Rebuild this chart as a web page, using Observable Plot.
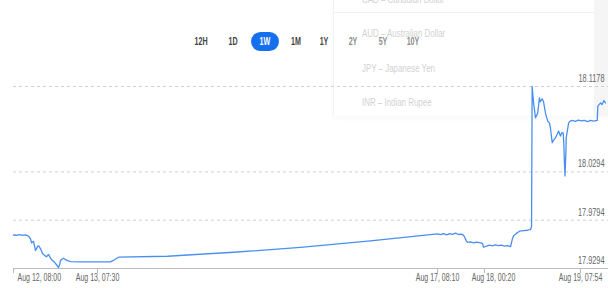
<!DOCTYPE html>
<html>
<head>
<meta charset="utf-8">
<script src="https://cdn.jsdelivr.net/npm/d3@7"></script>
<script src="https://cdn.jsdelivr.net/npm/@observablehq/plot@0.6"></script>
<style>
  html, body { margin: 0; padding: 0; background: #fff; }
  body { width: 608px; height: 288px; position: relative; overflow: hidden;
         font-family: "Liberation Sans", Arial, sans-serif; }
  #chart { position: absolute; left: 0; top: 0; z-index: 3; }
  #buttons { position: absolute; left: 0; top: 0; z-index: 1; }
  .btn { position: absolute; top: 32px; height: 19px; line-height: 19px; font-size: 10.5px; font-weight: bold;
         color: #444; transform: translateX(-50%); text-align: center; }
  .btn span { display: inline-block; transform: scaleX(0.68); }
  .btn.active { background: #1570ef; color: #fff; border-radius: 10px; width: 28px; }
  #overlay { position: absolute; left: 333px; top: 0; width: 275px; height: 116px; z-index: 2;
             background: rgba(255,255,255,0.38); box-shadow: 0 2px 6px rgba(0,0,0,0.03); }
  #overlay .sep { position: absolute; left: 0; top: 12px; width: 261px; border-top: 1px solid #f0f0f0; }
  #overlay .lft { position: absolute; left: 0; top: 0; width: 1px; height: 116px; background: #f2f2f2; }
  #overlay .scroll { position: absolute; left: 261px; top: 0; width: 14px; height: 116px; background: rgba(236,236,236,0.5); }
  #overlay .item { position: absolute; left: 29px; font-size: 11px; color: #d2d2d2; transform: translateY(-50%) scaleX(0.72);
                   transform-origin: left center; white-space: nowrap; }
</style>
</head>
<body>
<div id="buttons"></div>
<div id="overlay"></div>
<div id="chart"></div>
<script>
// Ranges (button labels)
const ranges = ["12H", "1D", "1W", "1M", "1Y", "2Y", "5Y", "10Y"];
const activeRange = "1W";
// Dropdown currency list
const currencies = ["CAD – Canadian Dollar", "AUD – Australian Dollar", "JPY – Japanese Yen", "INR – Indian Rupee"];

// Time: hours since Aug 12, 08:00
const hours = [0, 0.84, 1.68, 2.52, 3.36, 4.2, 4.76, 5.04, 5.6, 6.16, 6.72, 7.0, 7.55, 8.11, 8.67, 9.23, 9.79, 10.35, 10.91, 11.47, 11.75, 12.31, 12.59, 12.87, 13.15, 13.71, 13.99, 14.55, 15.11, 15.95, 18.75, 23.5, 27.2, 28.3, 29.47, 43.4, 62.2, 81.2, 101.1, 120.17,
  121.2, 122.2, 123.3, 124.3, 125.3, 126.4, 127.4, 128.4, 129.1, 130.1, 130.5, 131.5, 132.6, 133.6, 134.6, 135.6, 136.0, 137.0, 138.0, 139.0, 139.9, 140.9, 141.9, 142.9, 143.9, 144.9, 145.5, 145.9, 146.9, 147.9, 149.2, 150.5, 151.5, 151.8,
  152.0, 152.5, 153.1, 153.8, 154.4, 154.7, 155.3, 155.7, 156.4, 157.1, 157.7, 158.0, 158.6, 159.0, 159.7, 160.3, 160.7, 161.3, 161.8, 162.2, 162.4, 162.6, 162.8, 163.1, 163.2, 164.0, 164.5, 165.2, 166.2, 167.2, 168.2, 169.2, 170.2, 171.2, 172.2, 173.4, 173.6, 174.5, 175.0, 175.6, 176.1];
const rates = [17.9641, 17.9638, 17.9644, 17.9636, 17.9641, 17.9630, 17.9600, 17.9560, 17.9575, 17.9480, 17.9520, 17.9531, 17.9500, 17.9449, 17.9430, 17.9415, 17.9440, 17.9400, 17.9376, 17.9360, 17.9346, 17.9320, 17.9304, 17.9330, 17.9376, 17.9395, 17.9400, 17.9385, 17.9376, 17.9366, 17.9363, 17.9363, 17.9362, 17.9385, 17.9411, 17.9421, 17.9462, 17.9512, 17.9580, 17.9652,
  17.9645, 17.9656, 17.9642, 17.9655, 17.9648, 17.9660, 17.9646, 17.9650, 17.9640, 17.9580, 17.9565, 17.9570, 17.9560, 17.9568, 17.9562, 17.9555, 17.9514, 17.9525, 17.9535, 17.9528, 17.9538, 17.9530, 17.9535, 17.9525, 17.9530, 17.9520, 17.9600, 17.9634, 17.9660, 17.9680, 17.9686, 17.9690, 17.9700, 17.9727,
  18.1178, 18.1000, 18.0854, 18.0900, 18.1060, 18.1020, 18.1050, 18.1026, 18.0900, 18.0820, 18.0800, 18.0751, 18.0596, 18.0620, 18.0648, 18.0690, 18.0717, 18.0665, 18.0700, 18.0699, 18.0600, 18.0407, 18.0253, 18.0500, 18.0648, 18.0802, 18.0820, 18.0827, 18.0818, 18.0830, 18.0822, 18.0828, 18.0815, 18.0828, 18.0820, 18.0827, 18.0974, 18.1008, 18.0992, 18.1033, 18.1008];

// Axis ticks
const xTickHours = [0, 23.5, 120.17, 136.33, 167.9];
const xTickLabels = ["Aug 12, 08:00", "Aug 13, 07:30", "Aug 17, 08:10", "Aug 18, 00:20", "Aug 19, 07:54"];
const yTicks = [18.1178, 18.0294, 17.9794, 17.9294];

const data = hours.map((h, i) => ({h, v: rates[i]}));
const xt = xTickHours.map((h, i) => ({h, label: xTickLabels[i], i}));

const chart = Plot.plot({
  width: 608,
  height: 288,
  marginTop: 86,
  marginBottom: 20,
  marginLeft: 13,
  marginRight: 0,
  style: {fontFamily: `"Liberation Sans", Arial, sans-serif`, fontSize: "10px", color: "#666", background: "transparent"},
  x: {type: "linear", domain: [0, 23.5, 120.17, 136.33, 167.9, 177.1], range: [13, 97, 437, 484, 580, 608], axis: null, label: null},
  y: {domain: [17.9294, 18.1178], axis: null, label: null},
  marks: [
    Plot.ruleY(yTicks.slice(0, 3), {stroke: "#cfcfcf", strokeDasharray: "3,3"}),
    Plot.ruleY([17.9294], {stroke: "#bdbdbd"}),
    Plot.axisX(xTickHours, {tickSize: 5, text: null, label: null, stroke: "#bbb"}),
    Plot.text(yTicks, {y: d => d, text: d => d.toFixed(4), frameAnchor: "right", textAnchor: "end", dx: -4, dy: -8, fill: "#666", fontSize: 10.5}),
    Plot.text(xt.filter(d => d.i === 0), {x: "h", text: "label", frameAnchor: "bottom", textAnchor: "start", dx: 4, dy: 12, fill: "#666"}),
    Plot.text(xt.filter(d => d.i === 1 || d.i === 2 || d.i === 4), {x: "h", text: "label", frameAnchor: "bottom", dy: 12, fill: "#666"}),
    Plot.text(xt.filter(d => d.i === 3), {x: "h", text: "label", frameAnchor: "bottom", dx: 9, dy: 12, fill: "#666"}),
    Plot.line(data, {x: "h", y: "v", stroke: "#4a8ff0", strokeWidth: 1.3})
  ]
});
// condense text horizontally like the reference
chart.querySelectorAll("text").forEach(t => {
  const holder = t.closest("[text-anchor]");
  const a = holder ? holder.getAttribute("text-anchor") : "start";
  t.style.transformBox = "fill-box";
  t.style.transformOrigin = a === "end" ? "right center" : a === "middle" ? "center center" : "left center";
  const base = t.getAttribute("transform");
  t.style.transform = (base ? base.replace(/,/g, " ").replace(/translate\(([^ ]+) ([^)]+)\)/, "translate($1px, $2px)") + " " : "") + "scaleX(0.7)";
});
document.getElementById("chart").append(chart);

// Buttons
const btnX = [201, 233, 265, 296, 324, 353, 383, 413];
const bwrap = document.getElementById("buttons");
ranges.forEach((r, i) => {
  const b = document.createElement("div");
  b.className = "btn" + (r === activeRange ? " active" : "");
  b.style.left = btnX[i] + "px";
  const s = document.createElement("span");
  s.textContent = r;
  b.append(s);
  bwrap.append(b);
});

// Overlay dropdown
const ov = document.getElementById("overlay");
ov.innerHTML = '<div class="sep"></div><div class="lft"></div><div class="scroll"></div>';
const itemY = [-1, 33, 68, 102];
currencies.forEach((c, i) => {
  const d = document.createElement("div");
  d.className = "item";
  d.style.top = itemY[i] + "px";
  d.textContent = c;
  ov.append(d);
});
</script>
</body>
</html>
